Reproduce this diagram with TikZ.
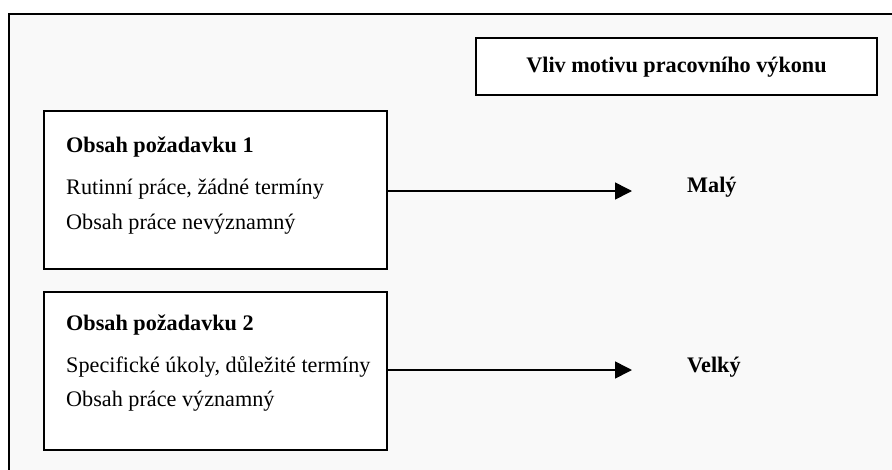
\documentclass[tikz,border=0pt]{standalone}
\usepackage{fontspec}
\setmainfont{Liberation Serif}
\usetikzlibrary{arrows.meta}
\definecolor{bggray}{HTML}{F9F9F9}
\tikzset{
  x=1pt, y=-1pt,
  box/.style={draw=black, line width=1.6pt, fill=white, rectangle, inner sep=0pt},
  txt/.style={anchor=west, inner sep=0pt, font=\fontsize{22.2}{26}\selectfont},
  btxt/.style={txt, font=\fontsize{22.2}{26}\selectfont\bfseries},
  arr/.style={line width=1.6pt, -{Triangle[length=17pt,width=17pt]}}
}
\begin{document}
\begin{tikzpicture}
\useasboundingbox (0,0) rectangle (892,469);
\fill[white] (0,0) rectangle (892,469);
\begin{scope}
\clip (0,0) rectangle (892,469);
\draw[line width=2.2pt, fill=bggray] (9,14) rectangle (910,490);
\end{scope}
\node[box, minimum width=401pt, minimum height=57pt] (top) at (676.5,66.5) {};
\node[btxt, anchor=center] (toptxt) at (676.5,67) {Vliv motivu pracovního výkonu};

\node[box, minimum width=343pt, minimum height=158pt] (b1) at (215.5,190) {};
\node[btxt] (t1) at (66,147) {Obsah požadavku 1};
\node[txt] (l11) at (66,189) {Rutinní práce, žádné termíny};
\node[txt] (l12) at (66,224) {Obsah práce nevýznamný};

\node[box, minimum width=343pt, minimum height=158pt] (b2) at (215.5,371) {};
\node[btxt] (t2) at (66,325) {Obsah požadavku 2};
\node[txt] (l21) at (66,367) {Specifické úkoly, důležité termíny};
\node[txt] (l22) at (66,401) {Obsah práce významný};

\node[btxt] (m) at (687,187) {Malý};
\node[btxt] (v) at (687,367) {Velký};

\coordinate (e1) at (632,191);
\coordinate (e2) at (632,370);
\draw[arr] (b1.east |- e1) -- (e1);
\draw[arr] (b2.east |- e2) -- (e2);
\end{tikzpicture}
\end{document}
